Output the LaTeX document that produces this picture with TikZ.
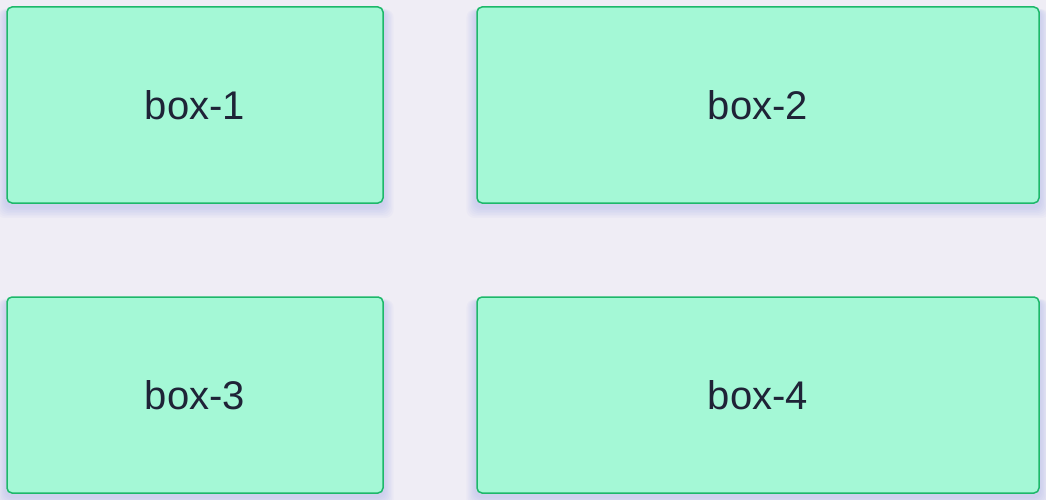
\documentclass[tikz,border=0pt]{standalone}
\usepackage{fontspec}
\setmainfont{Liberation Sans}
\usetikzlibrary{backgrounds}
\definecolor{bgcol}{HTML}{EFEDF5}
\definecolor{boxfill}{HTML}{A4F8D6}
\definecolor{boxline}{HTML}{1DB86A}
\definecolor{txtcol}{HTML}{1F2337}
\definecolor{shadecol}{HTML}{7F8FEA}
\begin{document}
\begin{tikzpicture}[x=1pt,y=-1pt,
		card/.style={draw=boxline,line width=1.5pt,fill=boxfill,rounded corners=5pt,
			minimum height=196pt,text=txtcol,inner sep=0pt,
			font=\fontsize{40}{44}\selectfont},
		glow/.style={fill=shadecol,opacity=0.045,rounded corners=8pt}]
		\useasboundingbox (0,0) rectangle (1046,500);
		\node[card,minimum width=376pt] (box1) at (195,105) {box-1};
		\node[card,minimum width=562pt] (box2) at (758,105) {box-2};
		\node[card,minimum width=376pt] (box3) at (195,395) {box-3};
		\node[card,minimum width=562pt] (box4) at (758,395) {box-4};
		% soft shadow under the boxes
		\begin{scope}[on background layer]
		\fill[bgcol] (0,0) rectangle (1046,500);
		\clip (0,0) rectangle (1046,500);
		\foreach \b in {box1,box2,box3,box4}
			\foreach \r in {1,...,7}
				\fill[glow] ([shift={(-\r*1.4,3)}]\b.north west) rectangle ([shift={(\r*1.4,3+\r*1.6)}]\b.south east);
		\end{scope}
		\end{tikzpicture}
\end{document}
